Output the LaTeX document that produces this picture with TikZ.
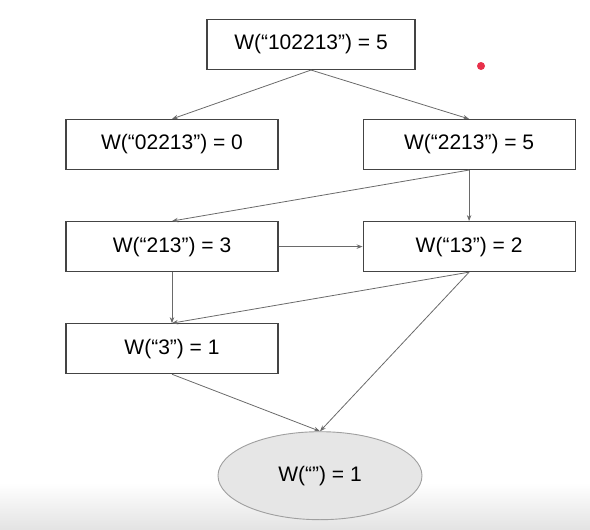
\documentclass[tikz,border=0pt]{standalone}
\usepackage{fontspec}
\setmainfont{Liberation Sans}
\usetikzlibrary{positioning, shapes.geometric, arrows.meta}
\definecolor{boxline}{HTML}{444444}
\definecolor{edgeline}{HTML}{6A6A6A}
\definecolor{leaffill}{HTML}{E6E6E6}
\definecolor{pointer}{HTML}{E8304A}

\begin{document}
\begin{tikzpicture}[
  x=1pt, y=1pt,
  word/.style={
    rectangle,
    draw=boxline,
    line width=1.1pt,
    align=center,
    minimum height=50pt,
    minimum width=212pt,
    inner sep=0pt,
    fill=white,
    font=\fontsize{21}{25}\selectfont
  },
  leaf/.style={
    ellipse,
    draw=gray!75,
    line width=0.9pt,
    minimum width=204pt,
    minimum height=88pt,
    inner sep=0pt,
    fill=leaffill,
    font=\fontsize{21}{25}\selectfont
  },
  arrow/.style={-{Stealth[length=6pt,width=4.5pt]}, line width=0.8pt, draw=edgeline},
  node distance=51pt and 84pt
]
\useasboundingbox (0,0) rectangle (590,-530);
\shade[top color=white, bottom color=gray!22] (0,-483) rectangle (590,-530);

\node[word, minimum width=208pt] (full) at (311,-44.5) {W(“102213”) = 5};
\node[word] (w02213) at (172,-144.5) {W(“02213”) = 0};
\node[word, right=of w02213] (w2213) {W(“2213”) = 5};
\node[word, below=of w02213] (w213) {W(“213”) = 3};
\node[word, below=of w2213] (w13) {W(“13”) = 2};
\node[word, below=of w213] (w3) {W(“3”) = 1};
\node[leaf, below=57pt of w3, xshift=148pt] (empty) {W(“”) = 1};

\fill[pointer] (481,-66) circle (4);

\draw[arrow] (full.south) -- (w02213.north);
\draw[arrow] (full.south) -- (w2213.north);
\draw[arrow] (w2213.south) -- (w213.north);
\draw[arrow] (w2213.south) -- (w13.north);
\draw[arrow] (w213.east) -- (w13.west);
\draw[arrow] (w213.south) -- (w3.north);
\draw[arrow] (w13.south) -- (w3.north);
\draw[arrow] (w13.south) -- (empty.north);
\draw[arrow] (w3.south) -- (empty.north);

\end{tikzpicture}
\end{document}
